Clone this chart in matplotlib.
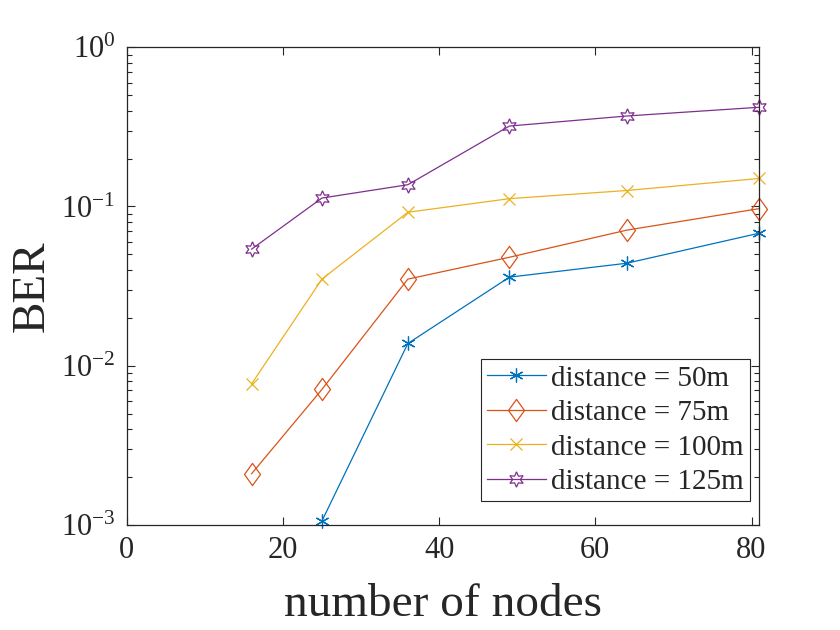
import numpy as np
import matplotlib
matplotlib.use("Agg")
import matplotlib.pyplot as plt
from matplotlib.path import Path

plt.rcParams['font.family'] = ['Liberation Serif', 'DejaVu Serif']
plt.rcParams['mathtext.fontset'] = 'custom'
plt.rcParams['mathtext.rm'] = 'Liberation Serif'
plt.rcParams['mathtext.it'] = 'Liberation Serif:italic'
dark = '#262626'
plt.rcParams['text.color'] = dark
plt.rcParams['axes.labelcolor'] = dark
plt.rcParams['xtick.color'] = dark
plt.rcParams['ytick.color'] = dark
plt.rcParams['axes.edgecolor'] = dark

# data
nodes = [16, 25, 36, 49, 64, 81]
nodes_50 = [25, 36, 49, 64, 81]
ber_50 = [0.00106, 0.0138, 0.036, 0.044, 0.068]
ber_75 = [0.0021, 0.0071, 0.035, 0.048, 0.071, 0.097]
ber_100 = [0.0077, 0.035, 0.092, 0.112, 0.126, 0.15]
ber_125 = [0.054, 0.113, 0.137, 0.32, 0.37, 0.42]
labels = ["distance = 50m", "distance = 75m", "distance = 100m", "distance = 125m"]
colors = ["#0072BD", "#D95319", "#EDB120", "#7E2F8E"]

diamond = Path([(0, 1), (0.72, 0), (0, -1), (-0.72, 0), (0, 1)],
               [Path.MOVETO, Path.LINETO, Path.LINETO, Path.LINETO, Path.CLOSEPOLY])

fig = plt.figure(figsize=(8.4, 6.3), dpi=100)
ax = fig.add_axes([0.1508, 0.1667, 0.7532, 0.7583])

ax.plot(nodes_50, ber_50, color=colors[0], lw=0.9, marker=(6, 2, 0), ms=10, mew=0.9,
        label=labels[0], clip_on=False)
ax.plot(nodes, ber_75, color=colors[1], lw=0.9, marker=diamond, ms=16, mfc='none', mew=0.9,
        label=labels[1], clip_on=False)
ax.plot(nodes, ber_100, color=colors[2], lw=0.9, marker='x', ms=8, mew=0.9,
        label=labels[2], clip_on=False)
ax.plot(nodes, ber_125, color=colors[3], lw=0.9, marker=(6, 1, 0), ms=11, mfc='none', mew=0.9,
        label=labels[3], clip_on=False)

ax.set_yscale('log')
ax.set_xlim(0, 81)
ax.set_ylim(1e-3, 1e0)
ax.set_xticks([0, 20, 40, 60, 80])
ax.tick_params(which='both', direction='in', top=True, right=True, labelsize=22, width=0.8)
ax.tick_params(which='major', length=6, pad=8)
ax.tick_params(which='minor', length=3.5)
for s in ax.spines.values():
    s.set_linewidth(0.9)

ax.set_xlabel("number of nodes", fontsize=34, labelpad=13)
ax.set_ylabel("BER", fontsize=34, labelpad=5)

leg = ax.legend(loc='lower right', bbox_to_anchor=(0.985, 0.05), fontsize=21,
                fancybox=False, edgecolor=dark, framealpha=1,
                handlelength=2.0, handletextpad=0.2, labelspacing=0.28,
                borderpad=0.2, borderaxespad=0)
leg.get_frame().set_linewidth(0.8)

fig.savefig("out.png", dpi=100)
